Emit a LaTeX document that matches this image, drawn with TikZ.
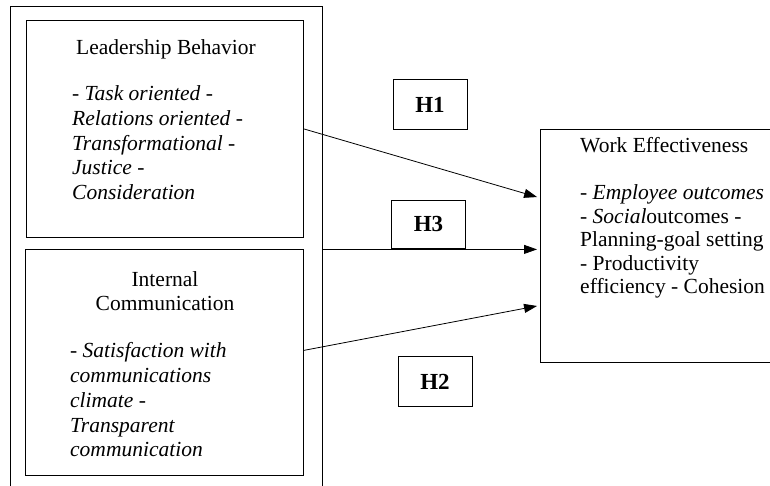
\documentclass[tikz,border=0pt]{standalone}
\usepackage{fontspec}
\setmainfont{Liberation Serif}
\usetikzlibrary{positioning, arrows.meta}

\begin{document}
\begin{tikzpicture}[
  x=1bp, y=-1bp,
  box/.style={draw, line width=0.8bp, inner sep=0pt, anchor=north west},
  hyp/.style={draw, line width=0.8bp, minimum width=74bp, minimum height=50bp,
              font=\fontsize{23bp}{27bp}\selectfont\bfseries},
  head/.style={inner sep=0pt, anchor=base, align=center,
               font=\fontsize{21.5bp}{23bp}\selectfont},
  body/.style={inner sep=0pt, anchor=north west, align=left,
               font=\fontsize{21.5bp}{24.8bp}\selectfont\itshape},
  arr/.style={line width=0.8bp, -{Triangle[length=13bp,width=9bp]}, shorten >=3bp}
]
\clip (0,0) rectangle (770,486);

% left side
\node[box, minimum width=312bp, minimum height=486bp] (outer) at (10,6) {};
\node[box, minimum width=277bp, minimum height=217bp] (lead) at (26,20) {};
\node[box, minimum width=278bp, minimum height=226bp] (comm) at (25,249) {};

\node[head] (leadt) at (166,55) {Leadership Behavior};
\node[body] (leadb) at (72,85.3) {- Task oriented -\\Relations oriented -\\Transformational -\\Justice -\\Consideration};

% base of a two-line head is its last line
\node[head] (commt) at (165,310) {Internal\\Communication};
\node[body] (commb) at (70,342.3) {- Satisfaction with\\communications\\climate -\\Transparent\\communication};

% right side
\node[box, minimum width=250bp, minimum height=233bp] (work) at (540,129) {};
\node[inner sep=0pt, anchor=north west, align=left,
      font=\fontsize{21.5bp}{23.5bp}\selectfont] (workt) at (580,137.3)
  {Work Effectiveness\\[23.5bp]- \textit{Employee outcomes}\\- \textit{Social}outcomes -\\Planning-goal setting\\- Productivity\\efficiency - Cohesion};

% hypotheses
\node[hyp] (h1) at (430,104.5) {H1};
\node[hyp, minimum height=48bp] (h3) at (428.5,224) {H3};
\node[hyp] (h2) at (435,381.5) {H2};

\draw[arr] (lead.east) -- ([yshift=48bp]work.west);
\draw[arr] (outer.east) -- (outer.east -| work.west);
\draw[arr] ([yshift=12bp]comm.east) -- ([yshift=-59.5bp]work.west);
\end{tikzpicture}
\end{document}
